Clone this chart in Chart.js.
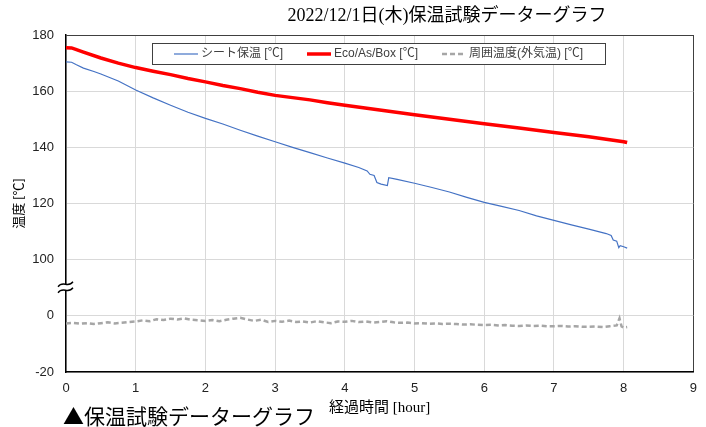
<!DOCTYPE html>
<html>
<head>
<meta charset="utf-8">
<script src="https://cdn.jsdelivr.net/npm/chart.js@4/dist/chart.umd.min.js"></script>
<style>
  body { margin: 0; background: #fff; }
  canvas { display: block; }
</style>
</head>
<body>
<canvas id="hoon" width="706" height="427"></canvas>
<script>
// シート保温
const sheetHours = [0, 0.08, 0.15, 0.25, 0.4, 0.5, 0.75, 1.0, 1.25, 1.5, 1.75, 2.0, 2.25, 2.5, 2.75, 3.0, 3.25, 3.5, 3.75, 4.0, 4.2, 4.32, 4.36, 4.42, 4.46, 4.52, 4.61, 4.63, 4.75, 5.0, 5.25, 5.5, 5.75, 6.0, 6.25, 6.5, 6.75, 7.0, 7.25, 7.5, 7.75, 7.82, 7.85, 7.9, 7.93, 7.95, 8.0, 8.05];
const sheetTemps = [170.4, 170.3, 169.4, 168.2, 167.0, 166.1, 163.6, 160.4, 157.6, 155.0, 152.5, 150.3, 148.3, 146.1, 144.0, 142.0, 140.0, 138.1, 136.2, 134.4, 132.8, 131.6, 130.4, 130.0, 127.5, 126.9, 126.4, 129.2, 128.6, 127.2, 125.7, 124.1, 122.2, 120.4, 119.0, 117.5, 115.6, 114.0, 112.4, 110.9, 109.3, 108.6, 107.0, 106.6, 104.3, 105.0, 104.6, 104.1];

// Eco/As/Box
const boxHours = [0, 0.08, 0.15, 0.25, 0.5, 0.75, 1.0, 1.25, 1.5, 1.75, 2.0, 2.25, 2.5, 2.75, 3.0, 3.25, 3.5, 3.75, 4.0, 4.5, 5.0, 5.5, 6.0, 6.5, 7.0, 7.5, 8.0, 8.05];
const boxTemps = [175.5, 175.4, 174.8, 173.9, 171.8, 170.0, 168.4, 167.1, 165.9, 164.5, 163.3, 162.0, 160.9, 159.6, 158.5, 157.7, 156.9, 155.9, 155.0, 153.3, 151.6, 150.0, 148.4, 146.9, 145.3, 143.8, 142.0, 141.7];

// 周囲温度(外気温)
const airHours = [0, 0.1, 0.2, 0.3, 0.4, 0.5, 0.6, 0.7, 0.8, 0.9, 1.0, 1.1, 1.2, 1.3, 1.4, 1.5, 1.6, 1.7, 1.8, 1.9, 2.0, 2.1, 2.2, 2.3, 2.4, 2.5, 2.6, 2.7, 2.8, 2.9, 3.0, 3.1, 3.2, 3.3, 3.4, 3.5, 3.6, 3.7, 3.8, 3.9, 4.0, 4.1, 4.2, 4.3, 4.4, 4.5, 4.6, 4.7, 4.8, 4.9, 5.0, 5.1, 5.2, 5.3, 5.4, 5.5, 5.6, 5.7, 5.8, 5.9, 6.0, 6.1, 6.2, 6.3, 6.4, 6.5, 6.6, 6.7, 6.8, 6.9, 7.0, 7.1, 7.2, 7.3, 7.4, 7.5, 7.6, 7.7, 7.8, 7.9, 7.94, 7.97, 8.0, 8.05];
const airTemps = [-2.7, -2.5, -2.8, -2.6, -2.9, -2.6, -2.3, -2.7, -2.5, -2.2, -2.0, -1.6, -1.9, -1.2, -1.5, -1.0, -1.3, -0.9, -1.4, -1.6, -1.8, -1.5, -1.9, -1.4, -1.0, -0.7, -1.3, -1.8, -1.4, -2.2, -1.8, -2.1, -1.7, -2.2, -2.0, -2.4, -1.9, -2.3, -2.6, -2.0, -2.1, -1.8, -2.2, -2.0, -2.4, -2.2, -1.9, -2.3, -2.5, -2.4, -2.7, -2.6, -2.8, -2.7, -2.9, -2.8, -2.9, -3.1, -3.0, -3.2, -3.3, -3.2, -3.4, -3.3, -3.5, -3.6, -3.4, -3.6, -3.5, -3.7, -3.7, -3.6, -3.8, -3.7, -3.9, -3.9, -3.8, -4.0, -3.7, -3.4, -0.9, -3.8, -4.2, -4.0];

const xTicks = [0, 1, 2, 3, 4, 5, 6, 7, 8, 9];
const yTicksShown = [180, 160, 140, 120, 100, 0, -20];

// 縦軸は 100 と 0 の間を省略 (0 以下は 80 だけ持ち上げて描く)
const BREAK_SHIFT = 80;
const shownToAxis = v => v >= 100 ? v : v + BREAK_SHIFT;
const axisToShown = v => v >= 100 ? v : v - BREAK_SHIFT;

const toPoints = (xs, ys, f) => xs.map((x, i) => ({ x: x, y: f ? f(ys[i]) : ys[i] }));

const TITLE = '2022/12/1日(木)保温試験データーグラフ';
const CAPTION = '▲保温試験データーグラフ';

const decor = {
    id: 'decor',
    afterDatasetsDraw(chart) {
        const ctx = chart.ctx;
        const y = chart.scales.y;
        const x0 = chart.chartArea.left;

        // 軸の省略記号
        const yb = (y.getPixelForValue(100) + y.getPixelForValue(80)) / 2;
        ctx.save();
        ctx.fillStyle = '#fff';
        ctx.fillRect(x0 - 2, yb - 3, 4, 6);
        ctx.strokeStyle = '#000';
        ctx.lineWidth = 1.3;
        [-3, 3].forEach(d => {
            ctx.beginPath();
            ctx.moveTo(x0 - 8, yb + d + 2);
            ctx.bezierCurveTo(x0 - 3, yb + d - 5, x0 + 2, yb + d + 4, x0 + 7, yb + d - 3);
            ctx.stroke();
        });
        ctx.restore();

        // 凡例
        ctx.save();
        ctx.font = '12px "Liberation Sans", "Noto Sans CJK JP", sans-serif';
        ctx.textBaseline = 'middle';
        const sample = 24, gap = 3, spacing = 24;
        const items = chart.data.datasets.map(ds => ({ ds: ds, w: ctx.measureText(ds.label).width }));
        const total = items.reduce((s, it) => s + sample + gap + it.w, 0) + spacing * (items.length - 1);
        const boxL = 152, boxR = 605, boxT = 43, boxB = 64;
        ctx.fillStyle = '#fff';
        ctx.fillRect(boxL, boxT, boxR - boxL, boxB - boxT);
        ctx.strokeStyle = '#404040';
        ctx.lineWidth = 1;
        ctx.strokeRect(boxL + 0.5, boxT + 0.5, boxR - boxL, boxB - boxT);
        let cx = (boxL + boxR) / 2 - total / 2;
        const cy = (boxT + boxB) / 2 + 0.5;
        items.forEach(it => {
            ctx.strokeStyle = it.ds.borderColor;
            ctx.lineWidth = it.ds.borderWidth;
            ctx.setLineDash(it.ds.borderDash || []);
            ctx.beginPath();
            ctx.moveTo(cx, cy);
            ctx.lineTo(cx + sample, cy);
            ctx.stroke();
            ctx.setLineDash([]);
            ctx.fillStyle = '#404040';
            ctx.fillText(it.ds.label, cx + sample + gap, cy);
            cx += sample + gap + it.w + spacing;
        });
        ctx.restore();
    },
    afterDraw(chart) {
        const ctx = chart.ctx;
        ctx.save();
        ctx.fillStyle = '#000';
        ctx.textBaseline = 'middle';
        ctx.textAlign = 'center';
        ctx.font = '18px "Liberation Serif", "Noto Sans CJK JP", serif';
        ctx.fillText(TITLE, 447, 16);
        ctx.textAlign = 'left';
        ctx.font = '21px "Noto Sans CJK JP", sans-serif';
        ctx.fillText(CAPTION, 63, 416);
        ctx.restore();
    }
};

const config = {
    type: 'line',
    data: {
        datasets: [{
            label: 'シート保温 [℃]',
            data: toPoints(sheetHours, sheetTemps),
            borderColor: '#4472c4',
            borderWidth: 1.2
        }, {
            label: 'Eco/As/Box [℃]',
            data: toPoints(boxHours, boxTemps),
            borderColor: '#ff0000',
            borderWidth: 3.5
        }, {
            label: '周囲温度(外気温) [℃]',
            data: toPoints(airHours, airTemps, shownToAxis),
            borderColor: '#a6a6a6',
            borderWidth: 2.5,
            borderDash: [5, 3]
        }]
    },
    options: {
        responsive: false,
        animation: false,
        layout: { padding: { top: 35, right: 7, left: 0, bottom: 0 } },
        elements: { point: { radius: 0 }, line: { tension: 0, fill: false } },
        scales: {
            x: {
                type: 'linear',
                min: 0,
                max: 9,
                afterFit: s => { s.height = 55; },
                afterBuildTicks: s => { s.ticks = xTicks.map(v => ({ value: v })); },
                grid: {
                    color: c => c.tick && c.tick.value === 9 ? '#404040' : '#d9d9d9',
                    drawTicks: false
                },
                border: { color: '#000', width: 1.5 },
                ticks: {
                    color: '#222',
                    padding: 9,
                    font: { family: '"Liberation Sans", sans-serif', size: 13 }
                },
                title: {
                    display: true,
                    text: '経過時間 [hour]',
                    color: '#000',
                    padding: { top: 0, bottom: 10 },
                    font: { family: '"Liberation Serif", "Noto Sans CJK JP", serif', size: 15 }
                }
            },
            y: {
                min: 60,
                max: 180,
                afterFit: s => { s.width = 66; },
                afterBuildTicks: s => { s.ticks = yTicksShown.map(v => ({ value: shownToAxis(v) })); },
                grid: {
                    color: c => c.tick && c.tick.value === 180 ? '#404040' : '#d9d9d9',
                    drawTicks: false
                },
                border: { color: '#000', width: 1.5 },
                ticks: {
                    color: '#222',
                    padding: 12,
                    callback: v => String(axisToShown(v)),
                    font: { family: '"Liberation Sans", sans-serif', size: 13 }
                },
                title: {
                    display: true,
                    text: '温度 [℃]',
                    color: '#000',
                    padding: { top: 10, bottom: 0 },
                    font: { family: '"Noto Sans CJK JP", sans-serif', size: 13 }
                }
            }
        },
        plugins: {
            legend: { display: false },
            title: { display: false },
            tooltip: { enabled: false }
        }
    },
    plugins: [decor]
};

const hoonChart = new Chart(document.getElementById('hoon'), config);
</script>
</body>
</html>
